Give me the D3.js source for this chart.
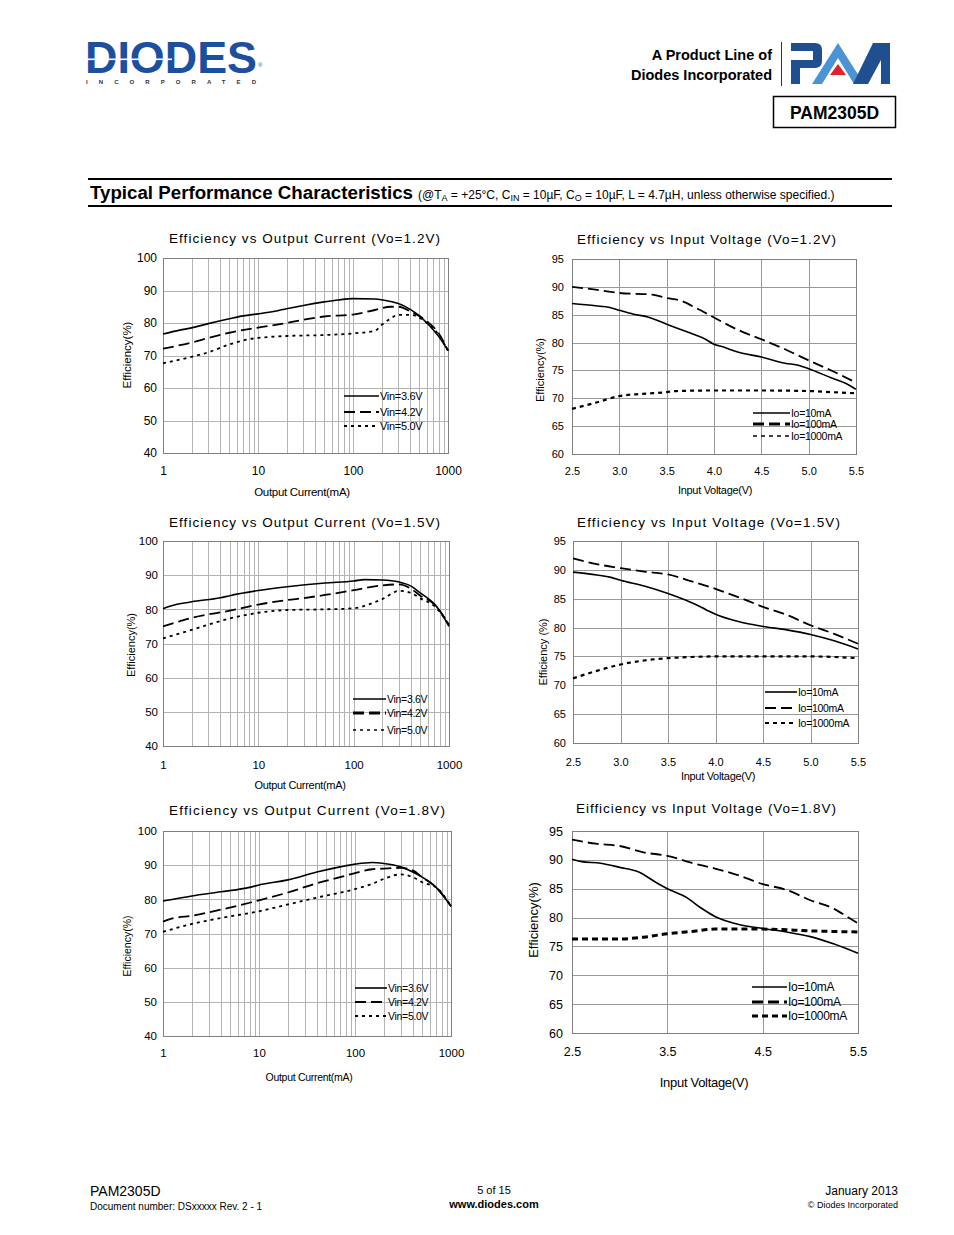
<!DOCTYPE html>
<html><head><meta charset="utf-8">
<script src="https://cdn.jsdelivr.net/npm/d3@7"></script>
<style>
body{margin:0;background:#fff}
svg{display:block}
text{font-family:"Liberation Sans",Arial,sans-serif}
</style>
</head><body>
<svg id="page" width="954" height="1235"></svg>
<script>
// ---------------- DATA ----------------
const ioutTicks = [1, 10, 100, 1000];
const effTicksIout = [40, 50, 60, 70, 80, 90, 100];
const vinTicks = [2.5, 3.0, 3.5, 4.0, 4.5, 5.0, 5.5];
const vinTicksCoarse = [2.5, 3.5, 4.5, 5.5];
const effTicksVin = [60, 65, 70, 75, 80, 85, 90, 95];
const vinLegend = ["Vin=3.6V", "Vin=4.2V", "Vin=5.0V"];
const ioLegend = ["Io=10mA", "Io=100mA", "Io=1000mA"];

// Vo=1.2V, efficiency vs output current (mA)
const vo12_iout_vin36 = [[1,76.6],[1.5,77.8],[2,78.5],[3,79.8],[5,81.3],[7,82.2],[10,82.8],[15,83.6],[20,84.4],[30,85.4],[50,86.5],[70,87.1],[100,87.5],[170,87.4],[250,86.6],[300,86.0],[400,84.2],[500,82.2],[600,80.0],[800,75.8],[1000,71.5]];
const vo12_iout_vin42 = [[1,72.1],[2,74.0],[3,75.4],[5,77.0],[10,78.6],[20,80.0],[30,81.0],[50,82.0],[100,82.6],[170,84.0],[250,85.0],[300,85.0],[400,83.6],[600,80.5],[800,76.8],[1000,71.5]];
const vo12_iout_vin50 = [[1,67.6],[2,69.6],[3,71.0],[5,73.4],[8,75.0],[10,75.4],[20,76.0],[50,76.3],[100,76.8],[170,77.6],[200,79.4],[250,81.4],[300,82.5],[400,82.5],[600,80.0],[800,76.3],[1000,71.5]];

// Vo=1.2V, efficiency vs input voltage (V)
const vo12_vin_io10 = [[2.5,87.0],[2.75,86.6],[2.9,86.3],[3.0,85.8],[3.15,85.1],[3.3,84.6],[3.5,83.3],[3.75,81.7],[3.9,80.7],[4.0,79.7],[4.1,79.2],[4.25,78.3],[4.5,77.4],[4.75,76.3],[4.9,75.9],[5.0,75.3],[5.25,73.6],[5.4,72.6],[5.5,71.6]];
const vo12_vin_io100 = [[2.5,90.0],[2.75,89.5],[3.0,88.9],[3.35,88.6],[3.5,88.0],[3.65,87.5],[3.8,86.3],[4.0,84.5],[4.25,82.3],[4.5,80.6],[4.75,78.8],[5.0,76.8],[5.25,74.9],[5.5,72.8]];
const vo12_vin_io1000 = [[2.5,68.1],[2.75,69.2],[3.0,70.4],[3.25,70.8],[3.5,71.1],[3.6,71.3],[4.0,71.4],[4.5,71.4],[5.0,71.3],[5.25,71.1],[5.5,70.9]];

// Vo=1.5V, efficiency vs output current (mA)
const vo15_iout_vin36 = [[1,80.2],[1.2,81.0],[2,82.2],[4,83.4],[5,84.0],[10,85.5],[20,86.6],[50,87.7],[100,88.3],[130,88.7],[200,88.6],[300,88.0],[400,86.8],[500,84.8],[700,81.6],[800,79.6],[1000,75.0]];
const vo15_iout_vin42 = [[1,75.0],[1.5,76.5],[2,77.5],[5,79.6],[10,81.4],[20,82.7],[30,83.3],[50,84.2],[100,85.6],[200,87.0],[300,87.3],[400,86.0],[500,84.0],[700,81.5],[1000,75.5]];
const vo15_iout_vin50 = [[1,71.5],[2,74.0],[5,77.3],[10,79.0],[20,79.8],[50,80.0],[100,80.3],[150,81.6],[200,83.0],[300,85.4],[400,84.8],[500,83.2],[700,81.0],[1000,75.5]];

// Vo=1.5V, efficiency vs input voltage (V)
const vo15_vin_io10 = [[2.5,89.6],[2.75,89.1],[2.9,88.7],[3.0,88.2],[3.25,87.2],[3.5,85.9],[3.75,84.3],[3.9,83.1],[4.0,82.3],[4.25,81.0],[4.5,80.2],[4.75,79.6],[5.0,78.8],[5.25,77.7],[5.5,76.3]];
const vo15_vin_io100 = [[2.5,92.0],[2.75,91.0],[3.0,90.3],[3.25,89.7],[3.5,89.2],[3.75,88.0],[4.0,86.7],[4.25,85.2],[4.5,83.6],[4.75,82.2],[5.0,80.4],[5.25,78.9],[5.5,77.2]];
const vo15_vin_io1000 = [[2.5,71.2],[2.75,72.5],[3.0,73.6],[3.25,74.3],[3.5,74.7],[3.75,74.9],[4.0,75.0],[4.5,75.0],[5.0,75.0],[5.5,74.7]];

// Vo=1.8V, efficiency vs output current (mA)
const vo18_iout_vin36 = [[1,79.5],[2,81.0],[4,82.2],[8,83.5],[10,84.2],[20,85.7],[40,88.0],[70,89.5],[100,90.3],[150,90.8],[200,90.5],[300,89.5],[400,88.0],[500,86.5],[700,83.5],[1000,78.0]];
const vo18_iout_vin42 = [[1,73.5],[1.3,74.5],[2,75.2],[4,77.0],[8,79.0],[10,79.7],[20,82.0],[40,84.7],[70,86.5],[100,87.7],[150,88.8],[200,89.0],[300,89.2],[400,88.5],[500,86.5],[700,83.5],[1000,78.0]];
const vo18_iout_vin50 = [[1,70.5],[2,72.8],[5,75.0],[10,76.5],[20,78.5],[40,80.5],[100,83.0],[150,84.5],[200,86.0],[300,87.3],[400,86.5],[500,85.0],[700,83.5],[1000,78.0]];

// Vo=1.8V, efficiency vs input voltage (V)
const vo18_vin_io10 = [[2.5,90.1],[2.6,89.7],[2.8,89.4],[3.0,88.7],[3.2,87.9],[3.4,85.9],[3.5,85.0],[3.7,83.5],[3.85,81.7],[4.0,80.2],[4.25,78.8],[4.5,78.1],[4.75,77.5],[5.0,76.7],[5.25,75.4],[5.5,73.8]];
const vo18_vin_io100 = [[2.5,93.5],[2.75,92.8],[3.0,92.4],[3.25,91.3],[3.5,90.7],[3.75,89.5],[4.0,88.5],[4.25,87.3],[4.5,85.8],[4.75,84.8],[5.0,83.0],[5.25,81.5],[5.4,80.0],[5.5,79.0]];
const vo18_vin_io1000 = [[2.5,76.3],[3.0,76.3],[3.25,76.6],[3.5,77.2],[3.75,77.6],[4.0,78.0],[4.5,78.0],[5.0,77.7],[5.5,77.5]];

// ---------------- PAGE ----------------
const svg = d3.select("#page");
const FONT = '"Liberation Sans",Arial,sans-serif';

// DIODES logo
svg.append("text").attr("x", 85).attr("y", 73).attr("font-size", 45).attr("font-weight", "bold")
  .attr("fill", "#1c509e").attr("textLength", 172).attr("lengthAdjust", "spacingAndGlyphs")
  .attr("font-family", '"DejaVu Sans",sans-serif').text("DIODES");
svg.append("rect").attr("x", 86).attr("y", 58.5).attr("width", 86).attr("height", 1.6).attr("fill", "#fff");
svg.append("text").attr("x", 258).attr("y", 67).attr("font-size", 6).attr("fill", "#1c509e").text("®");
svg.append("text").attr("x", 86).attr("y", 84).attr("font-size", 6).attr("font-weight", "bold")
  .attr("fill", "#333").attr("textLength", 170).attr("lengthAdjust", "spacing").text("INCORPORATED");

// header right
svg.append("text").attr("x", 772).attr("y", 60).attr("text-anchor", "end").attr("font-size", 14.5)
  .attr("font-weight", "bold").text("A Product Line of");
svg.append("text").attr("x", 772).attr("y", 80).attr("text-anchor", "end").attr("font-size", 14.5)
  .attr("font-weight", "bold").text("Diodes Incorporated");
svg.append("line").attr("x1", 781.5).attr("x2", 781.5).attr("y1", 42).attr("y2", 86).attr("stroke", "#333").attr("stroke-width", 1);
// PAM logo
svg.append("path").attr("fill", "#1f4f8f")
  .attr("d", "M791,43 H815 Q822,43 822,50 V61 Q822,68 815,68 H800 V84 H791 V60 H813 V51 H791 Z");
svg.append("path").attr("fill", "#4b94d3")
  .attr("d", "M838,43 L864,84 H854 L838,58 L822,84 H812 Z");
svg.append("path").attr("fill", "#e0202a").attr("d", "M838,64 L846,75 H830 Z");
svg.append("path").attr("fill", "#1f4f8f")
  .attr("d", "M853,84 L873,43 H890 V84 H881 V60 L868,84 Z");
// part number box
svg.append("rect").attr("x", 773.5).attr("y", 96.5).attr("width", 122).attr("height", 31)
  .attr("fill", "none").attr("stroke", "#000").attr("stroke-width", 1.5);
svg.append("text").attr("x", 834.5).attr("y", 119).attr("text-anchor", "middle").attr("font-size", 17.5)
  .attr("font-weight", "bold").text("PAM2305D");

// section header
svg.append("rect").attr("x", 88).attr("y", 178).attr("width", 804).attr("height", 2).attr("fill", "#000");
svg.append("rect").attr("x", 88).attr("y", 205).attr("width", 804).attr("height", 2).attr("fill", "#000");
svg.append("text").attr("x", 90).attr("y", 199).attr("font-size", 18).attr("font-weight", "bold")
  .attr("textLength", 323).attr("lengthAdjust", "spacingAndGlyphs").text("Typical Performance Characteristics");
{
  const t = svg.append("text").attr("x", 418).attr("y", 199).attr("font-size", 12);
  const parts = [["(@T", 0], ["A", 1], [" = +25°C, C", 0], ["IN", 1], [" = 10µF, C", 0], ["O", 1], [" = 10µF, L = 4.7µH, unless otherwise specified.)", 0]];
  parts.forEach((p, i) => {
    const s = t.append("tspan").text(p[0]);
    if (p[1]) s.attr("font-size", 9).attr("dy", 2);
    else s.attr("font-size", 12).attr("dy", (i > 0 && parts[i - 1][1]) ? -2 : 0);
  });
}

// footer
svg.append("text").attr("x", 90).attr("y", 1196).attr("font-size", 14).text("PAM2305D");
svg.append("text").attr("x", 90).attr("y", 1210).attr("font-size", 10).text("Document number: DSxxxxx Rev. 2 - 1");
svg.append("text").attr("x", 494).attr("y", 1194).attr("font-size", 11).attr("text-anchor", "middle").text("5 of 15");
svg.append("text").attr("x", 494).attr("y", 1208).attr("font-size", 11).attr("font-weight", "bold").attr("text-anchor", "middle").text("www.diodes.com");
svg.append("text").attr("x", 898).attr("y", 1195).attr("font-size", 12).attr("text-anchor", "end").text("January 2013");
svg.append("text").attr("x", 898).attr("y", 1208).attr("font-size", 9).attr("text-anchor", "end").text("© Diodes Incorporated");

// ---------------- CHART FUNCTION ----------------
const STYLES = [
  { dash: null, w: 1.6 },
  { dash: "11,5", w: 1.8 },
  { dash: "3,4", w: 1.8 }
];

function chart(o) {
  const g = svg.append("g");
  const x = (o.log ? d3.scaleLog() : d3.scaleLinear()).domain(o.xDomain).range([o.left, o.right]);
  const y = d3.scaleLinear().domain(o.yDomain).range([o.bottom, o.top]);

  const xGrid = o.log ? x.ticks() : o.xGrid;
  g.selectAll("line.vg").data(xGrid).join("line").attr("class", "vg")
    .attr("x1", d => Math.round(x(d)) + 0.5).attr("x2", d => Math.round(x(d)) + 0.5)
    .attr("y1", o.top).attr("y2", o.bottom).attr("stroke", o.gridColor).attr("stroke-width", 1);
  g.selectAll("line.hg").data(o.yTicks).join("line").attr("class", "hg")
    .attr("x1", o.left).attr("x2", o.right)
    .attr("y1", d => Math.round(y(d)) + 0.5).attr("y2", d => Math.round(y(d)) + 0.5)
    .attr("stroke", o.gridColor).attr("stroke-width", 1);
  g.append("rect").attr("x", o.left + 0.5).attr("y", o.top + 0.5)
    .attr("width", o.right - o.left).attr("height", o.bottom - o.top)
    .attr("fill", "none").attr("stroke", "#808080").attr("stroke-width", 1);

  const xAxis = d3.axisBottom(x).tickValues(o.xTicks).tickSize(0).tickPadding(o.xPad).tickFormat(o.xFmt);
  g.append("g").attr("transform", `translate(0,${o.bottom})`).call(xAxis)
    .call(s => s.select(".domain").remove())
    .call(s => s.selectAll("text").attr("font-size", o.tickFont).attr("font-family", FONT).attr("fill", "#000"));
  const yAxis = d3.axisLeft(y).tickValues(o.yTicks).tickSize(0).tickPadding(o.yPad).tickFormat(d3.format("d"));
  g.append("g").attr("transform", `translate(${o.left},0)`).call(yAxis)
    .call(s => s.select(".domain").remove())
    .call(s => s.selectAll("text").attr("font-size", o.tickFont).attr("font-family", FONT).attr("fill", "#000"));

  const line = d3.line().x(d => x(d[0])).y(d => y(d[1])).curve(d3.curveMonotoneX);
  const st = i => Object.assign({}, STYLES[i], (o.styleOverride && o.styleOverride[i]) || {});
  o.series.forEach((s, i) => {
    const sty = st(i);
    g.append("path").attr("d", line(s)).attr("fill", "none").attr("stroke", "#000")
      .attr("stroke-width", sty.w).attr("stroke-dasharray", sty.dash)
      .attr("stroke-linejoin", "round");
  });

  // legend
  o.legend.forEach((lab, i) => {
    const ly = o.legY[i];
    const sty = st(i);
    const lw = (o.legW && o.legW[i]) || sty.w;
    g.append("line").attr("x1", o.legX[0]).attr("x2", o.legX[1]).attr("y1", ly).attr("y2", ly)
      .attr("stroke", "#000").attr("stroke-width", lw).attr("stroke-dasharray", sty.dash);
    g.append("text").attr("x", o.legX[1] + 1).attr("y", ly + o.legFont * 0.36)
      .attr("font-size", o.legFont).attr("letter-spacing", -0.3).text(lab);
  });

  // title
  g.append("text").attr("x", o.titleX[0]).attr("y", o.titleY).attr("font-size", 13.5)
    .attr("textLength", o.titleX[1] - o.titleX[0]).attr("lengthAdjust", "spacing").text(o.title);
  // axis labels
  g.append("text").attr("x", o.xLab[0]).attr("y", o.xLab[1] + o.labFont * 0.36).attr("text-anchor", "middle")
    .attr("font-size", o.labFont).attr("letter-spacing", -0.3).text(o.xLabel);
  g.append("text").attr("transform", `translate(${o.yLab[0] + o.labFont * 0.36},${o.yLab[1]}) rotate(-90)`)
    .attr("text-anchor", "middle").attr("font-size", o.labFont).text(o.yLabel);
}

const fmtLog = d3.format("d");
const fmtV = d3.format(".1f");

chart({ log: true, left: 163, right: 448, top: 258, bottom: 453,
  xDomain: [1, 1000], yDomain: [40, 100], xTicks: ioutTicks, yTicks: effTicksIout, xFmt: fmtLog,
  xPad: 13, yPad: 6, tickFont: 12, gridColor: "#b4b4b4",
  series: [vo12_iout_vin36, vo12_iout_vin42, vo12_iout_vin50],
  legend: vinLegend, legX: [344, 379], legY: [396, 412, 426], legFont: 11,
  title: "Efficiency vs Output Current (Vo=1.2V)", titleX: [169, 440], titleY: 243,
  xLabel: "Output Current(mA)", xLab: [302, 492], yLabel: "Efficiency(%)", yLab: [127, 355], labFont: 11.5 });

chart({ log: false, left: 572, right: 856, top: 259, bottom: 454,
  xDomain: [2.5, 5.5], yDomain: [60, 95], xTicks: vinTicks, xGrid: vinTicks, yTicks: effTicksVin, xFmt: fmtV,
  xPad: 13, yPad: 8, tickFont: 11, gridColor: "#999",
  series: [vo12_vin_io10, vo12_vin_io100, vo12_vin_io1000],
  styleOverride: [null, null, { dash: "4,4", w: 2.2 }],
  legend: ioLegend, legX: [753, 790], legY: [413, 424, 436], legFont: 10.5, legW: [1.6, 3, 1.6],
  title: "Efficiency vs Input Voltage (Vo=1.2V)", titleX: [577, 836], titleY: 244,
  xLabel: "Input Voltage(V)", xLab: [715, 490], yLabel: "Efficiency(%)", yLab: [540, 370], labFont: 11 });

chart({ log: true, left: 163, right: 449, top: 541, bottom: 746,
  xDomain: [1, 1000], yDomain: [40, 100], xTicks: ioutTicks, yTicks: effTicksIout, xFmt: fmtLog,
  xPad: 15, yPad: 5, tickFont: 11.5, gridColor: "#b4b4b4",
  series: [vo15_iout_vin36, vo15_iout_vin42, vo15_iout_vin50],
  legend: vinLegend, legX: [353, 386], legY: [699, 713, 730], legFont: 10.5, legW: [1.6, 3, 1.6],
  title: "Efficiency vs Output Current (Vo=1.5V)", titleX: [169, 440], titleY: 527,
  xLabel: "Output Current(mA)", xLab: [300, 785], yLabel: "Efficiency(%)", yLab: [131, 645], labFont: 11 });

chart({ log: false, left: 573, right: 858, top: 541, bottom: 743,
  xDomain: [2.5, 5.5], yDomain: [60, 95], xTicks: vinTicks, xGrid: vinTicks, yTicks: effTicksVin, xFmt: fmtV,
  xPad: 15, yPad: 7, tickFont: 11, gridColor: "#999",
  series: [vo15_vin_io10, vo15_vin_io100, vo15_vin_io1000],
  styleOverride: [null, null, { dash: "4,4", w: 2.2 }],
  legend: ioLegend, legX: [765, 797], legY: [692, 708, 723], legFont: 10.5,
  title: "Efficiency  vs Input Voltage (Vo=1.5V)", titleX: [577, 840], titleY: 527,
  xLabel: "Input Voltage(V)", xLab: [718, 776], yLabel: "Efficiency (%)", yLab: [543, 652], labFont: 11 });

chart({ log: true, left: 163, right: 451, top: 831, bottom: 1036,
  xDomain: [1, 1000], yDomain: [40, 100], xTicks: ioutTicks, yTicks: effTicksIout, xFmt: fmtLog,
  xPad: 13, yPad: 6, tickFont: 11.5, gridColor: "#b4b4b4",
  series: [vo18_iout_vin36, vo18_iout_vin42, vo18_iout_vin50],
  legend: vinLegend, legX: [355, 387], legY: [988, 1002, 1016], legFont: 10.5,
  title: "Efficiency vs Output Current  (Vo=1.8V)", titleX: [169, 445], titleY: 815,
  xLabel: "Output Current(mA)", xLab: [309, 1077], yLabel: "Efficiency(%)", yLab: [127, 946], labFont: 10.5 });

chart({ log: false, left: 572, right: 858, top: 831, bottom: 1033,
  xDomain: [2.5, 5.5], yDomain: [60, 95], xTicks: vinTicksCoarse, xGrid: vinTicksCoarse, yTicks: effTicksVin, xFmt: fmtV,
  xPad: 14, yPad: 9, tickFont: 12.5, gridColor: "#999",
  series: [vo18_vin_io10, vo18_vin_io100, vo18_vin_io1000],
  styleOverride: [null, null, { dash: "6,4", w: 3 }],
  legend: ioLegend, legX: [752, 787], legY: [987, 1002, 1016], legFont: 12, legW: [1.6, 3, 3],
  title: "Eifficiency vs Input Voltage (Vo=1.8V)", titleX: [576, 836], titleY: 813,
  xLabel: "Input Voltage(V)", xLab: [704, 1082], yLabel: "Efficiency(%)", yLab: [533, 920], labFont: 13 });
</script>
</body></html>
